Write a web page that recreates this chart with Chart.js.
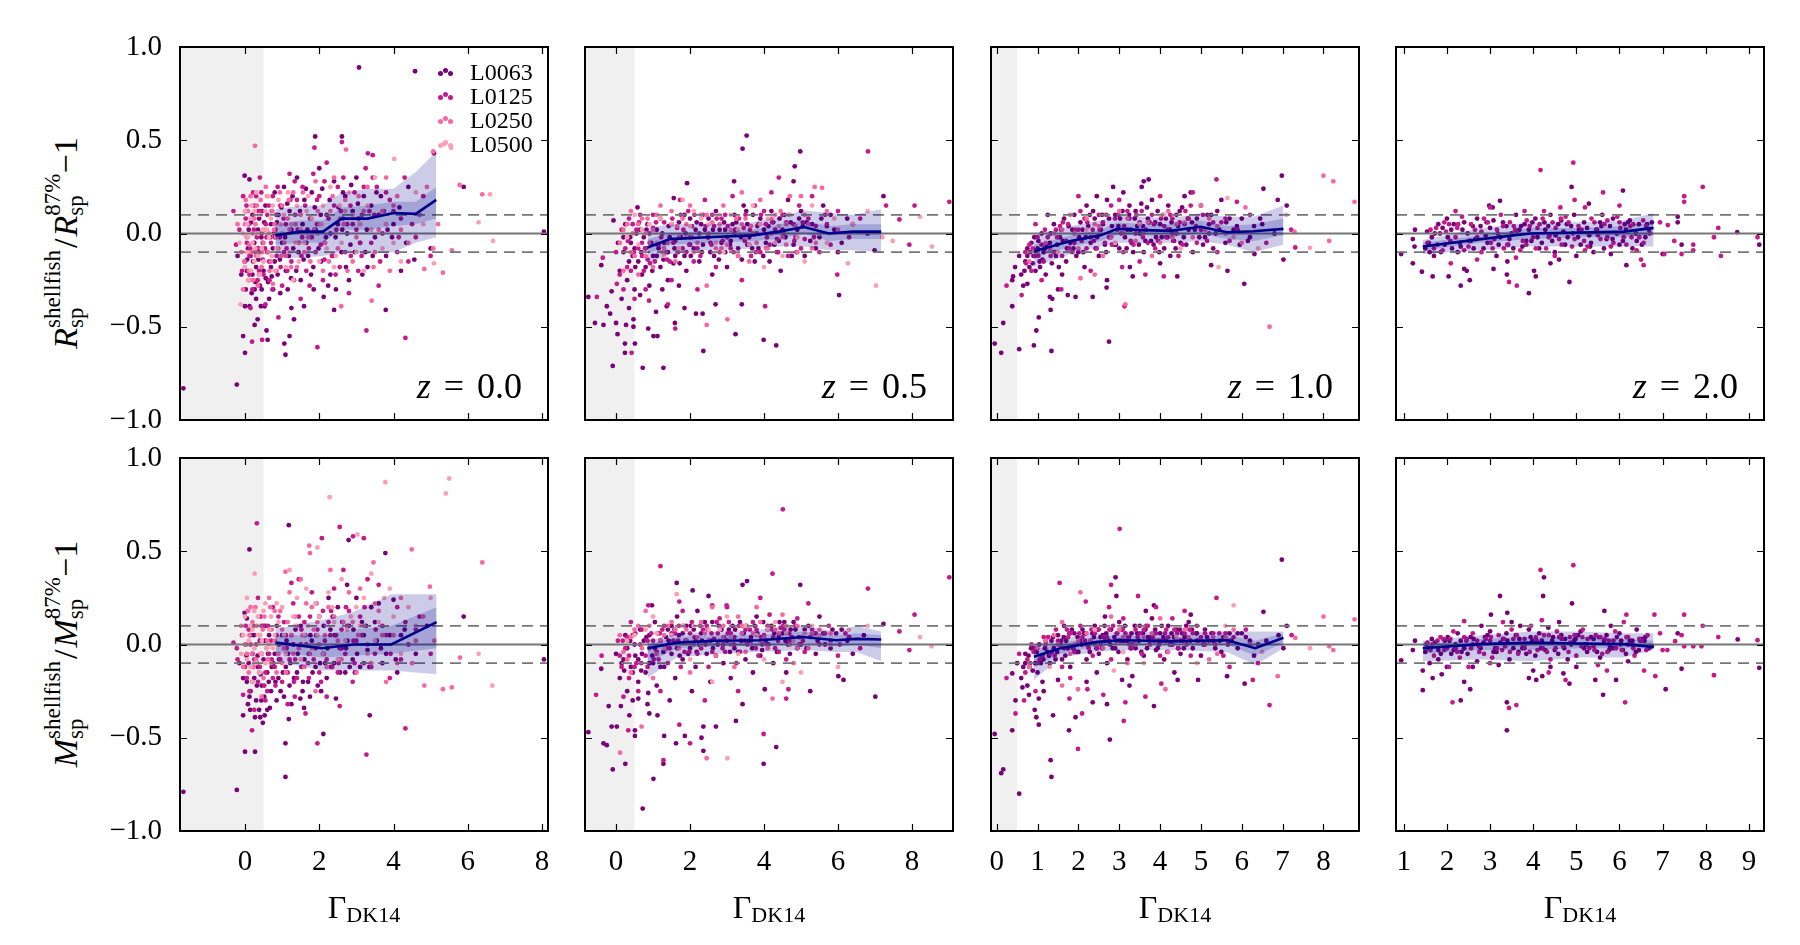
<!DOCTYPE html>
<html>
<head>
<meta charset="utf-8">
<title>Shellfish vs 87% splashback</title>
<script src="https://cdn.jsdelivr.net/npm/chart.js@4.4.1/dist/chart.umd.min.js"></script>
<style>
  body { margin: 0; background: #fff; }
  #fig { position: relative; width: 1800px; height: 945px; overflow: hidden; background: #fff;
         font-family: 'Liberation Serif', 'DejaVu Serif', serif; color: #000; }
  #fig canvas { position: absolute; }
  .txt { position: absolute; white-space: nowrap; line-height: 1; }
  .ylab { font-size: 34px; transform: translate(-50%, -50%) rotate(-90deg); }
  .st { display: inline-block; font-size: 23px; line-height: 23px; vertical-align: -6px; }
  .st span { display: block; }
  .zlab { font-size: 36px; word-spacing: 4px; }
  .xlab { font-size: 32px; transform: translateX(-50%); }
  .xlab span { font-size: 22px; position: relative; top: 4px; }
  .leg { font-size: 24px; }
  .dot { position: absolute; width: 5px; height: 5px; border-radius: 50%; }
</style>
</head>
<body>
<div id="fig"></div>
<script>
// ---- series / styling ----
const SERIES = ["L0063", "L0125", "L0250", "L0500"];
const COLORS = ["#7a0177", "#c51b8a", "#f768a1", "#fa9fb5"];
const REDSHIFTS = ["0.0", "0.5", "1.0", "2.0"];
const X_MIN = [-1.75, -0.84, -0.14, 0.82];
const X_MAX = [8.16, 9.11, 8.87, 9.35];
const X_TICKS = [[0, 2, 4, 6, 8], [0, 2, 4, 6, 8], [0, 1, 2, 3, 4, 5, 6, 7, 8], [1, 2, 3, 4, 5, 6, 7, 8, 9]];
const Y_TICKS = [-1, -0.5, 0, 0.5, 1];
const SHADE_MAX = 0.5;      // grey region: Gamma < 0.5
const REF_SOLID = 0;
const REF_DASHED = [0.1, -0.1];

// ---- R_sp, z = 0.0 (x, y pairs) ----
const rz00_L0063 = [3.07,0.89, 4.58,0.87, -1.66,-0.83, -0.22,-0.81, 8.05,0.01, -0.01,0.31, 0.12,0.29, 1.89,0.52, 2.61,0.52, 5.89,0.25,
  3.79,-0.41, 2.40,-0.41, 2.12,-0.34, 1.59,-0.39, 1.25,-0.40, 1.09,-0.65, 1.06,-0.59, 1.20,-0.55, 1.32,-0.46, 0.61,-0.57,
  0.58,-0.52, 0.26,-0.49, 0.34,-0.46, 0.00,-0.64, -0.05,-0.55, 0.12,-0.39, 0.00,-0.39, 0.72,-0.23, 0.53,-0.39, 0.43,-0.39,
  0.05,-0.20, 0.10,-0.25, 0.20,-0.22, 0.30,-0.18, 0.15,-0.12, 0.25,-0.05, 0.35,0.02, 0.40,-0.28, 0.45,-0.30, 0.50,-0.20,
  0.60,-0.10, 0.70,0.05, 0.80,-0.15, 0.90,0.10, 1.00,-0.05, 1.05,0.25, 1.10,-0.20, 1.20,0.12, 1.30,-0.08, 1.40,0.30,
  1.50,-0.25, 1.55,0.05, 1.60,0.18, 1.70,-0.12, 1.80,0.22, 1.85,-0.30, 1.90,0.02, 2.00,0.35, 2.05,-0.15, 2.20,0.10,
  2.30,-0.22, 2.40,0.28, 2.50,0.05, 2.60,-0.10, 2.70,0.20, 2.80,-0.25, 2.90,0.12, 3.00,0.30, 3.10,-0.05, 3.20,0.20,
  3.30,-0.18, 3.40,0.15, 3.60,0.10, 3.80,-0.12, 4.00,0.05, 4.20,-0.20, 4.40,0.25, 4.70,0.10, 5.00,-0.08, 0.20,0.10,
  0.55,0.15, 0.80,0.22, 1.15,-0.30, 0.30,-0.35, 0.40,-0.10, 0.10,0.02, 0.65,-0.35, 0.95,-0.32, 2.45,-0.30, 0.08,-0.08,
  0.22,-0.15, 0.48,-0.05, 0.75,-0.08, 1.25,0.02, 1.65,-0.05, 2.15,-0.05, 2.75,0.00, 3.50,-0.02, 0.38,0.08, 0.02,0.12,
  -0.20,-0.12, -0.10,-0.22, 0.02,-0.30, 0.18,-0.32, 0.28,-0.26, 0.36,-0.14, 0.44,-0.02, 0.52,0.06, 0.62,-0.26, 0.70,-0.18,
  0.78,0.00, 0.88,-0.22, 0.98,0.14, 1.08,-0.02, 1.18,-0.12, 1.28,0.20, 1.38,-0.20, 1.48,0.12, 1.58,-0.14, 1.68,0.02,
  1.78,-0.22, 1.88,0.14, 1.98,-0.08, 2.08,0.24, 2.18,-0.02, 2.28,0.18, 2.38,-0.12, 2.52,0.14, 2.62,0.02, 2.72,-0.18,
  2.86,0.26, 2.96,-0.10, 3.06,0.08, 3.16,-0.22, 3.28,0.02, 3.44,-0.12, 3.66,0.20, 3.96,-0.02, 4.16,0.14, 4.56,-0.14,
  0.06,-0.14, 0.16,0.06, 0.26,-0.30, 0.34,-0.08, 0.46,0.12, 0.56,-0.24, 0.68,-0.02, 0.76,-0.30, 0.86,0.06, 0.94,-0.14,
  1.14,0.16, 1.24,-0.24, 1.44,-0.10, 1.64,0.24, 1.84,-0.18, 2.04,0.10, 2.24,-0.28, 2.44,-0.02, 2.64,0.22, 2.84,-0.06,
  3.04,0.16, 3.24,-0.10, 3.54,0.22, 3.84,0.02, 4.34,-0.05];
const rz00_L0125 = [-0.31,0.12, 2.61,0.49, 1.87,0.46, 3.31,0.43, 3.44,0.42, 5.09,0.43, 4.32,-0.56, 3.27,-0.52, 1.95,-0.61, 0.46,-0.57,
  0.19,-0.58, -0.24,-0.06, 0.00,-0.15, 0.10,0.05, 0.20,-0.30, 0.30,0.20, 0.35,-0.08, 0.45,0.00, 0.50,-0.22, 0.60,0.10,
  0.70,-0.05, 0.75,0.20, 0.85,-0.12, 0.95,0.15, 1.00,-0.28, 1.10,0.05, 1.20,0.32, 1.25,-0.15, 1.35,0.10, 1.45,-0.05,
  1.55,0.25, 1.65,-0.20, 1.75,0.08, 1.90,-0.10, 2.00,0.20, 2.10,-0.25, 2.20,0.38, 2.30,0.00, 2.40,0.15, 2.55,-0.18,
  2.65,0.30, 2.75,0.05, 2.85,-0.12, 2.95,0.22, 3.05,-0.20, 3.15,0.10, 3.25,0.35, 3.40,-0.05, 3.55,0.25, 3.70,0.00,
  3.90,0.18, 4.10,-0.10, 4.30,0.30, 4.50,0.05, 4.80,0.20, 5.00,-0.12, 0.15,-0.40, 0.40,0.30, 0.55,-0.38, 0.90,-0.45,
  1.50,-0.35, 2.80,-0.32, 3.60,-0.28, 0.25,0.15, 0.05,-0.05, 0.65,-0.15, 0.12,-0.22, 0.28,-0.10, 0.42,0.12, 0.58,-0.02,
  0.82,0.02, 1.05,-0.10, 1.40,0.18, 1.80,-0.02, 2.25,0.08, 2.50,0.25, 3.00,0.02, 3.35,0.12, 4.00,0.12, 4.60,-0.02,
  -0.05,0.20, 0.38,-0.20,
  -0.15,0.02, -0.08,-0.20, 0.04,0.15, 0.14,-0.08, 0.22,0.22, 0.32,-0.02, 0.36,0.12, 0.48,-0.14, 0.56,0.05, 0.66,-0.25,
  0.72,0.12, 0.80,-0.02, 0.88,0.25, 0.96,-0.18, 1.04,0.08, 1.12,-0.08, 1.22,0.18, 1.32,-0.25, 1.42,0.02, 1.52,-0.12,
  1.62,0.15, 1.72,-0.08, 1.84,0.32, 1.94,0.05, 2.04,-0.06, 2.14,0.28, 2.34,-0.12, 2.46,0.02, 2.58,0.12, 2.70,-0.10,
  2.90,0.05, 3.10,-0.05, 3.20,0.25, 3.48,0.10, 3.64,-0.15, 3.80,0.22, 4.20,0.08, 4.40,-0.15,
  0.02,0.08, 0.12,-0.12, 0.24,0.02, 0.34,-0.25, 0.44,0.22, 0.54,-0.08, 0.64,0.15, 0.74,-0.30, 0.84,0.10, 0.94,-0.02,
  1.14,-0.20, 1.34,0.28, 1.54,-0.02, 1.74,-0.28, 1.94,0.18, 2.14,-0.14, 2.44,-0.22, 2.64,0.08, 2.84,0.15, 3.14,-0.12,
  3.44,0.30, 3.74,0.12, 4.14,-0.02];
const rz00_L0250 = [0.27,0.47, 2.72,0.45, 5.07,0.44, 5.78,0.26, 6.39,0.21, 5.33,-0.21, 5.57,-0.09, 5.07,-0.08, 4.83,-0.19, 3.41,-0.36,
  2.59,-0.39, 0.75,-0.27, -0.10,-0.10, 0.00,0.05, 0.10,-0.20, 0.20,0.00, 0.30,-0.12, 0.40,0.10, 0.50,-0.05, 0.60,0.20,
  0.70,-0.15, 0.80,0.05, 0.90,-0.08, 1.00,0.15, 1.10,-0.12, 1.20,0.02, 1.30,0.22, 1.40,-0.18, 1.50,0.10, 1.70,-0.02,
  1.90,0.28, 2.10,-0.20, 2.30,0.12, 2.50,-0.08, 2.70,0.18, 2.90,-0.15, 3.10,0.05, 3.30,0.25, 3.50,-0.10, 3.70,0.12,
  3.90,-0.20, 4.10,0.20, 4.40,-0.05, 4.70,0.10, 0.15,0.20, 0.35,-0.28, -0.05,-0.30, 0.05,-0.02, 0.25,0.08, 0.45,-0.18,
  0.65,0.00, 0.85,-0.20, 1.15,0.08, 1.60,-0.10, 2.00,0.05, 2.40,0.30, 3.00,-0.02, 3.80,0.30, 4.20,0.02, 4.90,0.25, 5.20,0.05,
  -0.20,0.05, -0.02,-0.15, 0.08,0.12, 0.18,-0.10, 0.28,0.05, 0.38,-0.22, 0.42,0.18, 0.52,0.02, 0.62,-0.10, 0.74,0.12,
  0.84,-0.02, 0.94,0.22, 1.06,-0.05, 1.24,-0.18, 1.36,0.05, 1.56,0.22, 1.76,-0.15, 1.96,0.12, 2.16,-0.05, 2.36,0.20,
  2.56,0.08, 2.76,-0.20, 3.20,0.12, 3.60,0.02, 4.00,0.15,
  0.02,0.18, 0.12,-0.06, 0.22,-0.25, 0.32,0.15, 0.46,-0.10, 0.56,0.25, 0.66,-0.20, 0.78,0.02, 0.98,-0.12, 1.18,0.18,
  1.46,-0.05, 1.86,0.02, 2.26,-0.15, 2.66,0.05, 3.06,0.20, 3.46,-0.18];
const rz00_L0500 = [4.02,0.40, 5.36,0.48, 5.55,0.46, 6.60,0.21, 6.29,0.06, 6.68,-0.04, 5.09,-0.16, -0.12,-0.38, -0.05,0.00, 0.05,-0.10,
  0.15,0.08, 0.25,-0.15, 0.35,0.00, 0.45,-0.08, 0.55,0.12, 0.65,-0.02, 0.80,-0.20, 1.00,0.00, 1.20,-0.10, 1.40,0.15,
  1.60,-0.05, 1.80,0.08, 2.00,-0.15, 2.30,0.25, 2.60,-0.05, 2.90,0.10, 3.20,-0.20, 3.50,0.30, 3.80,0.05, 4.20,-0.15,
  4.60,0.22, 0.10,-0.25, 0.30,0.22, 0.20,-0.05, 0.40,-0.22, 0.70,0.08, 0.90,0.18, 1.10,-0.18, 1.50,0.02, 2.10,0.15,
  2.45,-0.12, 2.80,0.22, 3.40,0.02, 4.00,-0.05, 4.80,0.05, 1.30,-0.25, 0.00,-0.18,
  -0.15,-0.05, 0.00,0.12, 0.08,-0.02, 0.18,0.15, 0.28,-0.08, 0.38,0.10, 0.50,-0.15, 0.60,0.02, 0.75,0.15, 0.85,-0.08,
  1.05,0.10, 1.25,0.05, 1.45,-0.15, 1.70,0.20, 1.95,0.00, 2.20,-0.08, 2.55,0.15, 3.00,-0.10, 3.30,0.15, 3.70,-0.08,
  0.06,0.05, 0.16,-0.20, 0.26,0.12, 0.36,-0.12, 0.48,0.02, 0.62,0.20, 0.72,-0.12, 0.96,0.05, 1.16,0.22, 1.36,-0.05,
  1.66,0.12, 2.06,0.05, 2.40,-0.18, 2.70,0.12, 3.10,0.05];
const rz00_bins = [0.82, 1.5, 2.1, 2.6, 3.3, 4.0, 4.6, 5.15];
const rz00_med  = [-0.01, 0.01, 0.01, 0.08, 0.08, 0.11, 0.105, 0.18];
const rz00_lo   = [-0.13, -0.13, -0.12, -0.10, -0.11, -0.10, -0.05, -0.02];
const rz00_hi   = [0.13, 0.15, 0.15, 0.22, 0.24, 0.24, 0.33, 0.44];
const rz00_lo2  = [-0.06, -0.05, -0.05, 0.02, 0.02, 0.04, 0.05, 0.08];
const rz00_hi2  = [0.05, 0.07, 0.07, 0.14, 0.15, 0.17, 0.17, 0.25];

// ---- R_sp, z = 0.5 ----
const rz05_L0063 = [3.53,0.525, 3.42,0.455, 4.98,0.44, 4.83,0.36, 1.92,0.27, 3.19,0.28, 4.80,0.28, 1.56,0.19, 7.23,0.20, 6.03,-0.33,
  6.99,-0.09, -0.75,-0.34, -0.57,-0.48, -0.34,-0.49, -0.09,-0.71, 0.72,-0.72, 1.28,-0.72, 0.24,-0.64, 0.24,-0.59, 0.51,-0.59,
  0.04,-0.54, 0.87,-0.51, 1.01,-0.55, 1.12,-0.55, 1.08,-0.42, 1.37,-0.39, 1.59,-0.48, 1.85,-0.40, 2.16,-0.43, 2.34,-0.43,
  2.36,-0.63, 2.69,-0.38, 3.23,-0.54, 3.40,-0.38, 3.99,-0.57, 4.33,-0.60, -0.16,-0.43, 0.00,-0.48, 0.27,-0.49, 0.47,-0.50,
  0.47,-0.46, -0.25,-0.39, -0.12,-0.31, -0.40,-0.17, -0.07,0.07, 0.58,0.14,
  0.10,-0.20, 0.20,-0.10, 0.30,-0.25, 0.40,-0.05, 0.50,-0.30, 0.60,-0.15, 0.70,-0.22, 0.80,-0.08, 0.90,-0.28, 1.00,-0.12,
  1.10,0.02, 1.20,-0.18, 1.30,-0.05, 1.40,-0.25, 1.50,0.05, 1.60,-0.12, 1.75,-0.02, 1.90,-0.20, 2.00,0.08, 2.10,-0.08,
  2.25,-0.15, 2.40,0.02, 2.55,-0.10, 2.70,0.12, 2.85,-0.05, 3.00,-0.18, 3.15,0.05, 3.30,-0.08, 3.45,0.15, 3.60,-0.02,
  3.75,-0.15, 3.90,0.08, 4.05,-0.05, 4.20,0.12, 4.35,-0.10, 4.50,0.02, 4.65,0.18, 4.80,-0.06, 4.95,0.08, 5.10,-0.12,
  5.30,0.05, 5.50,-0.02, 5.80,0.10, 6.10,-0.05, 6.40,0.05, 6.80,0.00, 0.15,-0.35, 0.35,-0.40, 0.65,-0.33, 1.25,-0.30,
  0.05,-0.05, 0.25,0.05, 0.55,0.00, 0.85,0.05, 1.45,-0.02, 2.30,0.05, 2.95,0.02, 3.55,0.05, 4.15,-0.15, 5.00,0.12,
  1.70,-0.28, 2.60,-0.22, 0.45,-0.12, 0.75,-0.02, 1.15,-0.08, 1.85,0.10, 3.20,0.10, 4.45,-0.20, 5.60,0.15,
  0.20,-0.02, 0.35,-0.15, 0.50,-0.08, 0.65,0.02, 0.80,-0.18, 0.95,-0.05, 1.10,-0.12, 1.25,0.00, 1.40,-0.10, 1.55,-0.16,
  1.70,0.06, 1.85,-0.12, 2.00,-0.06, 2.15,0.02, 2.35,-0.06, 2.50,0.08, 2.65,-0.12, 2.80,0.02, 2.95,-0.10, 3.10,-0.04,
  3.25,0.06, 3.40,-0.14, 3.55,-0.06, 3.70,0.10, 3.85,-0.08, 4.00,0.02, 4.25,0.06, 4.40,-0.04, 4.55,0.10, 4.75,-0.12,
  4.90,0.02, 5.15,0.06, 5.40,-0.08, 5.70,0.04, 6.00,-0.10, 6.25,0.08,
  0.38,-0.02, 0.52,-0.18, 0.68,-0.10, 0.82,0.02, 0.98,-0.20, 1.12,-0.06, 1.28,-0.14, 1.42,0.04, 1.58,-0.08, 1.72,-0.16,
  1.88,0.00, 2.02,-0.12, 2.18,0.06, 2.32,-0.10, 2.48,-0.02, 2.62,0.02, 2.78,-0.14, 2.92,0.06, 3.08,-0.06, 3.22,0.02,
  3.38,-0.02, 3.52,0.12, 3.68,-0.08, 3.82,0.04, 3.98,-0.12, 4.12,0.04, 4.28,-0.06, 4.42,0.08, 4.58,-0.02, 4.72,0.06,
  4.88,-0.10, 5.05,0.04, 5.25,-0.04, 5.55,0.08, 5.90,0.02];
const rz05_L0125 = [1.73,0.18, 7.30,0.15, 8.07,0.15, 9.01,0.17, 6.81,0.44, 7.66,0.075, 7.93,-0.06, 5.98,-0.22, -0.52,-0.34, 0.42,-0.64,
  1.60,-0.51, 0.89,-0.36, 0.02,-0.27, -0.36,-0.13, 4.03,-0.39,
  0.00,-0.10, 0.15,0.02, 0.30,-0.18, 0.45,0.05, 0.60,-0.08, 0.75,-0.20, 0.90,0.00, 1.05,-0.15, 1.20,0.08, 1.35,-0.10,
  1.50,-0.25, 1.65,0.03, 1.80,-0.08, 1.95,0.12, 2.10,-0.15, 2.25,0.00, 2.40,0.18, 2.55,-0.05, 2.70,-0.18, 2.85,0.08,
  3.00,-0.02, 3.15,0.20, 3.30,-0.12, 3.45,0.03, 3.60,-0.06, 3.75,0.15, 3.90,-0.10, 4.05,0.05, 4.20,0.22, 4.35,-0.03,
  4.50,0.10, 4.65,-0.12, 4.80,0.05, 4.95,0.15, 5.10,-0.03, 5.30,0.20, 5.50,-0.10, 5.70,0.05, 6.00,0.12, 6.30,-0.02,
  6.60,0.08, 0.20,-0.30, 0.50,-0.35, 0.80,-0.30, 1.40,-0.38, 2.20,-0.30, 3.40,-0.25, 0.35,0.08, 0.65,0.10, 1.00,0.10,
  1.55,-0.05, 2.00,-0.02, 2.60,0.10, 3.20,0.00, 3.85,0.05, 4.40,0.30, 5.20,0.08, 0.10,-0.22, 0.70,-0.12,
  0.25,-0.08, 0.40,-0.20, 0.55,0.02, 0.70,-0.05, 0.85,-0.14, 1.00,0.03, 1.15,-0.06, 1.30,0.06, 1.45,-0.15, 1.60,-0.04,
  1.75,0.10, 1.90,-0.10, 2.05,0.04, 2.20,-0.08, 2.35,0.10, 2.50,-0.02, 2.65,0.04, 2.80,-0.10, 2.95,0.10, 3.10,-0.08,
  3.25,0.02, 3.50,0.10, 3.65,-0.12, 3.80,0.00, 4.00,0.12, 4.15,-0.06, 4.30,0.02, 4.60,0.06, 4.85,-0.02, 5.00,-0.08,
  5.40,0.04, 5.80,-0.06,
  0.32,-0.04, 0.48,-0.10, 0.62,0.06, 0.78,-0.08, 0.92,-0.16, 1.08,0.06, 1.22,-0.02, 1.38,-0.14, 1.52,0.08, 1.68,-0.10,
  1.82,0.02, 1.98,-0.06, 2.12,0.10, 2.28,-0.12, 2.42,0.04, 2.58,-0.06, 2.72,0.08, 2.88,-0.04, 3.02,0.04, 3.18,-0.10,
  3.32,0.08, 3.48,-0.04, 3.62,0.02, 3.78,-0.10, 3.92,0.10, 4.08,-0.02, 4.22,0.06, 4.38,-0.10, 4.52,0.00, 4.68,0.10,
  4.82,-0.04, 5.05,0.06, 5.35,-0.02, 5.65,0.10];
const rz05_L0250 = [5.37,0.25, 5.57,0.245, 2.45,-0.49, 3.01,-0.46, 2.45,-0.28,
  0.10,-0.05, 0.30,0.05, 0.50,-0.12, 0.70,0.08, 0.90,-0.05, 1.10,0.10, 1.30,-0.08, 1.50,0.12, 1.70,-0.02, 1.90,0.05,
  2.10,-0.10, 2.30,0.10, 2.50,0.00, 2.70,-0.08, 2.90,0.15, 3.10,0.02, 3.30,-0.12, 3.50,0.08, 3.70,0.00, 3.90,0.18,
  4.10,-0.08, 4.30,0.10, 4.50,-0.02, 4.70,0.20, 4.90,-0.10, 5.10,0.10, 5.40,-0.05, 5.70,0.12, 6.00,0.02, 0.20,-0.20,
  0.60,-0.22, 1.00,-0.18, 0.40,0.12, 1.20,0.15, 2.00,0.15, 3.40,0.22, 4.60,0.05, 5.00,0.20, 0.80,0.00, 1.60,-0.15,
  2.80,0.05, 3.60,-0.15, 4.20,0.00,
  0.20,0.02, 0.40,-0.10, 0.60,0.05, 0.80,-0.12, 1.00,0.02, 1.40,-0.05, 1.80,0.08, 2.20,-0.05, 2.60,0.06, 3.00,-0.06,
  3.40,0.05, 3.80,-0.05, 4.20,0.08, 4.60,-0.06, 5.20,0.05,
  0.45,0.00, 0.85,0.08, 1.25,-0.10, 1.65,0.04, 2.05,-0.02, 2.45,0.10, 2.85,-0.08, 3.25,0.08, 3.65,0.04, 4.05,-0.08,
  4.45,0.12, 4.85,0.04, 5.30,-0.08];
const rz05_L0500 = [8.22,0.09, 7.48,-0.04, 8.54,-0.07, 7.03,-0.28, 6.27,-0.16,
  0.30,-0.02, 0.70,0.02, 1.10,-0.05, 1.50,0.05, 1.90,-0.02, 2.30,0.08, 2.70,-0.05, 3.10,0.10, 3.50,-0.02, 3.90,0.05,
  4.30,-0.05, 4.70,0.10, 5.10,-0.15, 5.50,0.00, 5.90,0.08, 6.40,0.05, 0.50,0.10, 1.30,-0.12, 2.10,0.12, 2.90,-0.10,
  3.70,0.15, 4.50,-0.12, 5.30,0.15, 6.80,0.12, 7.20,-0.02, 1.80,0.18, 4.00,-0.18,
  0.90,0.05, 1.70,-0.08, 2.50,0.05, 3.30,0.02, 4.10,0.08, 4.90,-0.02, 5.70,-0.05,
  0.60,-0.06, 1.20,0.08, 2.00,0.04, 2.80,0.10, 3.60,-0.06, 4.40,0.04];
const rz05_bins = [0.85, 1.46, 2.45, 3.7, 4.4, 5.08, 5.75, 6.4, 7.17];
const rz05_med  = [-0.075, -0.03, -0.02, -0.01, 0.01, 0.035, 0.0, 0.01, 0.01];
const rz05_lo   = [-0.16, -0.11, -0.09, -0.08, -0.07, -0.07, -0.09, -0.09, -0.10];
const rz05_hi   = [0.03, 0.05, 0.05, 0.06, 0.09, 0.125, 0.11, 0.10, 0.13];
const rz05_lo2  = [-0.11, -0.06, -0.05, -0.04, -0.03, 0.0, -0.04, -0.03, -0.03];
const rz05_hi2  = [-0.03, 0.0, 0.01, 0.02, 0.05, 0.07, 0.04, 0.05, 0.05];

// ---- R_sp, z = 1.0 ----
const rz10_L0063 = [3.72,0.29, 3.60,0.28, 6.98,0.31, 6.53,0.24, 6.88,0.18, 7.10,0.15, 7.02,-0.14, 6.31,-0.11, 6.06,-0.27, 5.65,-0.20,
  5.25,-0.17, 4.42,-0.23, 4.00,-0.16, 3.33,-0.23, 3.26,-0.18, 2.75,-0.58, 2.69,-0.29, 2.70,-0.25, 2.35,-0.34, 1.93,-0.34,
  1.74,-0.33, 1.50,-0.30, 1.36,-0.35, 1.30,-0.34, 1.32,-0.41, 1.03,-0.45, 0.97,-0.52, 0.91,-0.60, 1.34,-0.63, 0.55,-0.62,
  0.11,-0.64, -0.05,-0.59, 0.16,-0.48, 0.38,-0.39, 0.38,-0.25, 0.40,-0.23, 0.75,-0.27,
  0.45,-0.18, 0.55,-0.12, 0.60,-0.22, 0.70,-0.15, 0.75,-0.08, 0.80,-0.18, 0.85,-0.05, 0.90,-0.12, 0.95,-0.20, 1.00,-0.08,
  1.05,-0.15, 1.10,0.00, 1.15,-0.10, 1.20,-0.22, 1.30,-0.05, 1.40,0.05, 1.45,-0.12, 1.55,-0.02, 1.65,0.08, 1.70,-0.15,
  1.80,-0.05, 1.90,0.10, 2.00,-0.10, 2.10,0.02, 2.20,0.15, 2.30,-0.05, 2.40,0.08, 2.50,-0.12, 2.60,0.05, 2.70,0.18,
  2.80,-0.02, 2.90,0.10, 3.00,-0.08, 3.10,0.22, 3.20,0.02, 3.30,-0.05, 3.40,0.12, 3.50,0.00, 3.60,-0.10, 3.70,0.08,
  3.80,0.18, 3.90,-0.02, 4.00,0.05, 4.10,-0.08, 4.20,0.15, 4.30,0.00, 4.40,0.10, 4.50,-0.05, 4.60,0.20, 4.70,0.02,
  4.80,-0.10, 4.90,0.08, 5.00,0.15, 5.10,-0.02, 5.20,0.05, 5.40,0.12, 5.60,-0.05, 5.80,0.02, 6.00,0.08, 6.20,-0.02,
  6.50,0.05, 6.80,0.00, 1.25,0.10, 2.15,-0.18, 3.25,0.15, 4.25,-0.12, 5.30,-0.08, 0.65,-0.28, 1.60,-0.22, 2.45,0.20,
  3.55,0.25, 4.75,0.22, 5.50,0.18, 2.85,0.25,
  0.75,-0.12, 0.88,-0.16, 1.02,-0.04, 1.12,-0.14, 1.22,-0.06, 1.35,-0.16, 1.48,-0.06, 1.58,0.02, 1.72,-0.08, 1.85,0.02,
  1.95,-0.12, 2.05,0.06, 2.18,-0.02, 2.28,0.10, 2.42,-0.08, 2.55,0.02, 2.65,-0.06, 2.75,0.08, 2.88,-0.06, 2.98,0.04,
  3.08,0.12, 3.18,-0.08, 3.28,0.02, 3.38,0.08, 3.48,-0.06, 3.58,0.04, 3.68,0.14, 3.78,-0.04, 3.88,0.06, 3.98,-0.10,
  4.08,0.10, 4.18,-0.02, 4.28,0.06, 4.38,-0.08, 4.48,0.12, 4.58,-0.02, 4.68,0.08, 4.85,0.02, 5.05,-0.06, 5.25,0.10,
  5.45,0.02, 5.70,0.08, 5.95,-0.06, 6.30,0.04,
  0.68,-0.20, 0.82,-0.10, 0.92,-0.02, 1.06,-0.18, 1.18,-0.08, 1.32,0.00, 1.42,-0.10, 1.52,-0.18, 1.62,-0.04, 1.76,0.04,
  1.88,-0.08, 2.02,-0.02, 2.12,-0.10, 2.24,0.04, 2.36,0.12, 2.46,-0.02, 2.58,0.10, 2.68,-0.10, 2.82,0.04, 2.92,-0.06,
  3.02,0.08, 3.14,-0.02, 3.24,0.10, 3.34,-0.10, 3.44,0.04, 3.54,0.16, 3.64,-0.04, 3.74,0.06, 3.84,-0.06, 3.94,0.12,
  4.04,-0.02, 4.14,0.08, 4.24,0.02, 4.34,-0.04, 4.44,0.04, 4.54,0.14, 4.64,-0.06, 4.78,0.06, 4.96,-0.02, 5.16,0.10,
  5.36,0.00, 5.62,0.06, 5.88,0.04, 6.15,-0.04, 6.45,0.08];
const rz10_L0125 = [5.38,0.29, 5.88,0.17, 7.21,0.02, 7.31,-0.075, 4.09,-0.23, 3.64,-0.22, 3.13,-0.39, 1.58,-0.30, 0.61,-0.33, 0.24,-0.28, 3.07,-0.18,
  0.70,-0.10, 0.85,-0.20, 1.00,-0.02, 1.15,-0.15, 1.30,-0.08, 1.45,0.02, 1.60,-0.12, 1.75,0.05, 1.90,-0.05, 2.05,0.12,
  2.20,-0.08, 2.35,0.02, 2.50,0.10, 2.65,-0.05, 2.80,0.15, 2.95,0.02, 3.10,-0.10, 3.25,0.08, 3.40,0.00, 3.55,0.12,
  3.70,-0.05, 3.85,0.05, 4.00,0.20, 4.15,-0.02, 4.30,0.08, 4.45,-0.12, 4.60,0.05, 4.75,0.15, 4.90,-0.05, 5.05,0.10,
  5.20,0.00, 5.40,-0.10, 5.60,0.08, 5.90,0.02, 6.20,0.10, 6.60,-0.05, 1.10,-0.25, 2.30,-0.20, 3.50,-0.15, 4.80,0.22,
  0.95,0.05, 2.00,0.20, 3.00,0.18,
  0.80,-0.06, 0.95,-0.12, 1.10,-0.06, 1.25,-0.02, 1.40,-0.10, 1.55,0.04, 1.70,-0.04, 1.85,-0.10, 2.00,0.02, 2.15,0.08,
  2.30,-0.02, 2.45,-0.08, 2.60,0.06, 2.75,-0.02, 2.90,0.08, 3.05,0.00, 3.20,0.12, 3.35,-0.06, 3.50,0.06, 3.65,0.02,
  3.80,0.10, 3.95,-0.04, 4.10,0.04, 4.25,0.10, 4.40,0.00, 4.55,-0.06, 4.70,0.08, 5.00,0.02, 5.30,0.06, 5.70,-0.04,
  0.72,-0.16, 0.88,-0.08, 1.02,-0.12, 1.18,0.02, 1.32,-0.12, 1.48,-0.02, 1.62,0.06, 1.78,-0.08, 1.92,0.02, 2.08,-0.04,
  2.22,0.06, 2.38,-0.04, 2.52,0.02, 2.68,0.10, 2.82,-0.06, 2.98,0.10, 3.12,0.04, 3.28,-0.04, 3.42,0.10, 3.58,-0.02,
  3.72,0.06, 3.88,-0.08, 4.02,0.08, 4.18,0.02, 4.32,-0.04, 4.48,0.06, 4.62,0.12, 4.88,0.04, 5.15,-0.04, 5.50,0.06];
const rz10_L0250 = [8.00,0.31, 8.24,0.28, 8.76,0.17, 6.09,0.14, 7.29,0.01, 8.14,-0.04, 6.68,-0.50, 3.15,-0.38, 2.05,-0.24, 2.40,-0.22,
  1.20,-0.05, 1.60,0.02, 2.00,-0.08, 2.40,0.05, 2.80,-0.02, 3.20,0.08, 3.60,0.00, 4.00,-0.05, 4.40,0.05, 4.80,-0.02,
  5.20,0.08, 5.60,0.00, 6.00,-0.05, 1.80,0.10, 3.00,0.12, 4.20,0.12, 0.80,-0.15, 2.60,-0.12, 3.80,-0.12, 5.00,0.15,
  1.00,-0.10, 1.40,0.00, 2.20,0.08, 3.40,-0.04, 4.60,0.06, 5.40,0.04,
  1.30,-0.08, 1.90,0.00, 2.50,0.04, 3.10,0.00, 3.70,0.06, 4.30,-0.02, 5.10,0.02];
const rz10_L0500 = [5.65,0.19, 7.09,0.10, 7.67,-0.077, 5.43,-0.18, 2.90,-0.05, 3.50,0.05, 4.50,-0.08, 2.20,0.02, 1.50,-0.10, 5.80,-0.02,
  4.10,0.10, 6.40,-0.08];
const rz10_bins = [0.91, 1.81, 2.54, 2.95, 3.6, 4.25, 4.99, 5.64, 6.29, 7.02];
const rz10_med  = [-0.095, -0.04, -0.01, 0.025, 0.018, 0.014, 0.036, 0.007, 0.012, 0.025];
const rz10_lo   = [-0.18, -0.11, -0.07, -0.05, -0.05, -0.05, -0.04, -0.06, -0.10, -0.06];
const rz10_hi   = [-0.01, 0.04, 0.07, 0.10, 0.09, 0.08, 0.11, 0.09, 0.09, 0.15];
const rz10_lo2  = [-0.13, -0.07, -0.04, -0.01, -0.01, -0.02, 0.0, -0.03, -0.04, -0.01];
const rz10_hi2  = [-0.06, -0.01, 0.02, 0.06, 0.05, 0.05, 0.07, 0.04, 0.05, 0.08];

// ---- R_sp, z = 2.0 (only two boxes reach this redshift) ----
const rz20_L0063 = [4.89,0.25, 6.08,0.23, 5.29,0.16, 3.23,0.175, 2.98,0.15, 3.06,0.14, 7.35,0.09, 7.35,0.06, 8.73,0.007, 9.24,-0.06,
  7.44,-0.06, 7.00,-0.11, 6.16,-0.17, 4.84,-0.26, 3.90,-0.32, 3.39,-0.22, 4.06,-0.23, 4.02,-0.20, 3.08,-0.19, 2.53,-0.25,
  2.32,-0.28, 2.40,-0.19, 2.46,-0.20, 2.04,-0.23, 1.67,-0.23, 1.42,-0.205, 1.21,-0.16, 0.94,-0.11, 1.25,-0.07, 1.21,-0.03,
  1.26,0.02, 1.54,0.01, 4.40,-0.16,
  1.50,-0.08, 1.65,-0.02, 1.80,0.05, 1.95,-0.06, 2.10,0.02, 2.25,-0.10, 2.40,0.06, 2.55,-0.04, 2.70,0.08, 2.85,-0.08,
  3.00,0.03, 3.15,-0.12, 3.30,0.06, 3.45,-0.03, 3.60,0.10, 3.75,-0.07, 3.90,0.02, 4.05,0.08, 4.20,-0.05, 4.35,0.04,
  4.50,-0.10, 4.65,0.07, 4.80,-0.02, 4.95,0.10, 5.10,-0.06, 5.25,0.03, 5.40,-0.10, 5.55,0.06, 5.70,-0.03, 5.85,0.08,
  6.00,-0.06, 6.15,0.02, 6.30,-0.08, 6.45,0.05, 6.60,-0.02, 6.75,0.06, 1.70,-0.12, 2.00,0.08, 2.60,0.04, 3.20,-0.06,
  3.80,0.05, 4.40,0.10, 5.00,-0.12, 5.60,0.10, 6.20,0.06, 2.30,-0.05, 2.90,-0.01, 3.50,0.00, 4.10,-0.02, 4.70,0.01,
  5.30,-0.01, 1.90,0.03, 3.40,-0.15, 4.60,-0.14, 5.80,-0.11,
  1.58,-0.05, 1.72,0.00, 1.86,-0.10, 2.02,-0.02, 2.16,0.05, 2.32,-0.07, 2.48,0.00, 2.62,-0.08, 2.78,0.04, 2.94,-0.05,
  3.08,0.07, 3.24,-0.02, 3.38,0.04, 3.54,-0.08, 3.68,0.02, 3.84,-0.04, 3.98,0.06, 4.14,-0.08, 4.28,0.02, 4.44,-0.04,
  4.58,0.05, 4.74,-0.06, 4.88,0.04, 5.04,-0.02, 5.18,0.06, 5.34,-0.05, 5.48,0.02, 5.64,-0.08, 5.78,0.04, 5.94,0.00,
  6.08,-0.04, 6.24,0.07, 6.38,0.00, 6.52,-0.06, 6.68,0.02,
  1.60,-0.10, 1.84,0.00, 2.12,-0.08, 2.36,0.02, 2.66,-0.03, 2.92,0.06, 3.18,0.00, 3.42,-0.06, 3.72,0.04, 3.96,-0.04,
  4.26,0.06, 4.52,-0.01, 4.78,0.05, 5.06,0.02, 5.32,-0.07, 5.58,0.04, 5.84,-0.03, 6.12,0.05, 6.40,-0.04, 6.64,0.05];
const rz20_L0125 = [4.93,0.38, 4.17,0.34, 7.93,0.25, 5.62,0.22, 7.50,0.20, 7.50,0.17, 4.96,0.18, 7.12,0.045, 6.94,0.06, 8.29,0.03,
  8.19,-0.02, 9.20,-0.02, 7.71,-0.06, 7.71,-0.09, 7.27,-0.04, 7.44,-0.11, 7.04,-0.11, 8.35,-0.12, 6.56,-0.17, 3.62,-0.28,
  3.44,-0.26, 2.09,-0.16, 4.63,0.14, 4.25,0.12,
  1.55,-0.05, 1.75,0.03, 1.90,-0.09, 2.05,0.05, 2.20,-0.02, 2.35,0.09, 2.50,-0.07, 2.65,0.02, 2.80,-0.10, 2.95,0.06,
  3.10,-0.03, 3.25,0.10, 3.40,-0.06, 3.55,0.04, 3.70,-0.09, 3.85,0.07, 4.00,-0.02, 4.15,0.05, 4.30,-0.08, 4.45,0.06,
  4.60,-0.03, 4.75,0.09, 4.90,-0.07, 5.05,0.04, 5.20,-0.09, 5.35,0.08, 5.50,-0.01, 5.65,0.05, 5.80,-0.07, 5.95,0.09,
  6.10,-0.02, 6.25,0.04, 6.40,-0.09, 6.55,0.07, 6.70,0.00, 2.20,0.12, 3.00,0.14, 3.80,0.12, 4.50,-0.12, 5.20,0.14,
  6.00,0.15, 2.70,-0.14, 3.60,-0.13, 6.50,-0.14,
  1.62,0.02, 1.78,-0.06, 1.94,0.06, 2.08,-0.04, 2.24,0.03, 2.40,-0.09, 2.56,0.05, 2.70,-0.02, 2.86,0.08, 3.02,-0.05,
  3.16,0.02, 3.32,-0.08, 3.46,0.06, 3.62,0.00, 3.76,-0.04, 3.92,0.04, 4.06,-0.08, 4.22,0.08, 4.36,-0.02, 4.52,0.03,
  4.66,-0.06, 4.82,0.06, 4.96,-0.03, 5.12,0.02, 5.26,-0.07, 5.42,0.06, 5.56,-0.03, 5.72,0.07, 5.86,-0.05, 6.02,0.03,
  6.16,-0.06, 6.32,0.05, 6.46,-0.02, 6.62,0.04,
  1.70,-0.08, 1.98,0.01, 2.26,0.05, 2.52,-0.04, 2.80,0.01, 3.06,-0.08, 3.30,0.04, 3.58,0.02, 3.84,-0.06, 4.10,0.03,
  4.38,-0.01, 4.64,0.08, 4.92,0.00, 5.18,-0.04, 5.46,0.02, 5.72,-0.02, 6.00,0.06, 6.28,-0.02, 6.56,-0.05];
const rz20_L0250 = [];
const rz20_L0500 = [];
const rz20_bins = [1.44, 2.79, 3.94, 5.1, 6.1, 6.79];
const rz20_med  = [-0.07, -0.03, 0.0, 0.005, 0.01, 0.03];
const rz20_lo   = [-0.11, -0.09, -0.07, -0.07, -0.07, -0.07];
const rz20_hi   = [-0.035, 0.03, 0.06, 0.06, 0.07, 0.11];
const rz20_lo2  = [-0.09, -0.05, -0.03, -0.02, -0.02, -0.01];
const rz20_hi2  = [-0.05, -0.01, 0.03, 0.03, 0.04, 0.06];

// ---- M_sp, z = 0.0 ----
const mz00_L0063 = [1.18,0.64, 0.12,0.51, 2.79,0.56, 3.78,0.49, 5.89,0.15, 8.05,-0.08, 3.36,-0.38, 2.11,-0.48, 1.09,-0.71, 1.09,-0.53,
  1.18,-0.40, 0.00,-0.575, 0.27,-0.575, -0.22,-0.78, -1.66,-0.79, -0.01,0.17, 0.05,0.14, 0.27,-0.39, 0.41,-0.39, 0.48,-0.42,
  0.53,-0.38, 0.60,-0.35, 0.67,-0.34, -0.05,-0.38, 1.59,-0.34, 1.49,-0.29, 2.45,-0.29,
  0.05,-0.20, 0.10,-0.10, 0.15,-0.25, 0.20,-0.05, 0.25,-0.18, 0.30,-0.30, 0.35,-0.12, 0.40,0.02, 0.45,-0.22, 0.50,-0.08,
  0.60,-0.15, 0.70,-0.25, 0.80,-0.05, 0.90,-0.18, 1.00,0.05, 1.10,-0.12, 1.20,-0.22, 1.30,0.00, 1.40,-0.15, 1.50,0.10,
  1.60,-0.08, 1.70,-0.20, 1.80,0.02, 1.90,-0.12, 2.00,0.15, 2.10,-0.05, 2.20,-0.18, 2.30,0.08, 2.40,-0.10, 2.50,0.20,
  2.60,-0.02, 2.70,-0.15, 2.80,0.10, 2.90,-0.08, 3.00,0.25, 3.10,-0.12, 3.20,0.05, 3.30,-0.03, 3.50,0.12, 3.70,-0.10,
  3.90,0.05, 4.10,-0.15, 4.30,0.08, 4.60,-0.05, 4.90,0.10, 0.15,0.05, 0.55,0.10, 0.85,-0.30, 1.25,-0.32, 1.75,-0.28,
  2.25,0.25, 2.75,0.32, 3.40,0.20, 0.08,-0.32, 0.38,-0.35, 0.65,0.05, 1.05,-0.28, 1.55,-0.25, 2.05,-0.25, 3.60,0.22, 4.00,0.24,
  -0.15,-0.10, -0.05,-0.18, 0.02,0.00, 0.12,-0.28, 0.22,-0.12, 0.32,-0.22, 0.42,-0.16, 0.52,-0.28, 0.62,-0.05, 0.72,-0.12,
  0.82,-0.20, 0.92,-0.08, 1.02,-0.15, 1.12,0.02, 1.22,-0.10, 1.32,-0.18, 1.42,-0.05, 1.52,-0.12, 1.62,0.05, 1.72,-0.05,
  1.82,-0.15, 1.92,0.05, 2.02,-0.10, 2.12,0.10, 2.22,-0.02, 2.32,-0.12, 2.42,0.05, 2.52,-0.08, 2.62,0.12, 2.72,-0.02,
  2.82,-0.12, 2.92,0.08, 3.02,-0.05, 3.15,0.12, 3.35,-0.12, 3.55,0.02, 3.80,-0.05, 4.20,0.05,
  0.04,-0.06, 0.14,-0.35, 0.24,0.05, 0.34,-0.06, 0.44,-0.30, 0.54,0.02, 0.64,-0.20, 0.76,-0.10, 0.86,0.10, 0.96,-0.25,
  1.16,-0.05, 1.36,0.08, 1.56,-0.20, 1.76,0.05, 1.96,-0.22, 2.16,-0.10, 2.36,0.15, 2.56,-0.15, 2.76,0.02, 2.96,-0.15,
  3.26,0.10, 3.66,-0.02, 4.06,-0.08];
const mz00_L0125 = [0.32,0.65, 2.55,0.63, 2.91,0.58, 2.07,0.57, 3.20,0.57, 1.25,0.33, 4.32,-0.45, 3.27,-0.59, 1.95,-0.53, -0.31,0.01,
  -0.22,-0.02, 0.19,-0.46, -0.05,-0.27, 1.63,-0.37, 1.34,-0.28, 2.55,-0.33,
  0.00,-0.12, 0.10,0.08, 0.20,-0.20, 0.30,0.00, 0.40,-0.12, 0.50,0.10, 0.60,-0.25, 0.70,0.02, 0.80,-0.12, 0.90,0.15,
  1.00,-0.20, 1.10,0.05, 1.20,-0.08, 1.30,0.22, 1.40,-0.18, 1.50,0.00, 1.60,0.12, 1.70,-0.10, 1.80,0.28, 1.90,-0.02,
  2.00,-0.15, 2.10,0.18, 2.20,-0.08, 2.30,0.05, 2.40,0.30, 2.50,-0.15, 2.60,0.08, 2.70,-0.05, 2.80,0.18, 2.90,-0.20,
  3.00,0.02, 3.10,0.15, 3.20,-0.10, 3.30,0.35, 3.50,-0.05, 3.70,0.10, 3.90,-0.18, 4.10,0.20, 4.40,0.00, 4.70,0.15,
  5.00,-0.05, 0.25,-0.35, 0.55,-0.30, 1.15,-0.32, 2.20,-0.28, 3.60,0.32, 0.35,0.25, 0.75,0.20, 1.45,0.35, 2.65,0.40, 0.45,-0.05,
  -0.20,-0.08, -0.08,0.05, 0.05,-0.18, 0.15,0.00, 0.25,-0.08, 0.35,-0.20, 0.45,0.10, 0.55,-0.15, 0.65,-0.05, 0.75,-0.18,
  0.85,0.05, 0.95,-0.08, 1.05,0.12, 1.15,-0.15, 1.25,0.05, 1.35,-0.08, 1.45,0.15, 1.55,-0.12, 1.65,0.00, 1.75,0.15,
  1.85,-0.08, 1.95,0.08, 2.05,-0.20, 2.15,0.02, 2.25,0.12, 2.35,-0.12, 2.45,0.05, 2.55,-0.02, 2.75,0.10, 2.95,-0.10,
  3.15,0.05, 3.40,-0.12, 3.80,0.05, 4.20,-0.08, 4.60,0.08,
  0.02,0.10, 0.12,-0.25, 0.22,0.10, 0.32,-0.10, 0.42,0.15, 0.52,-0.22, 0.62,0.10, 0.72,-0.08, 0.82,-0.22, 0.92,0.00,
  1.12,-0.02, 1.32,-0.20, 1.52,0.08, 1.72,-0.18, 1.92,0.22, 2.12,-0.05, 2.32,0.18, 2.52,-0.10, 2.72,0.20, 2.92,0.02,
  3.22,0.20, 3.52,0.08, 3.92,-0.05, 4.32,0.12];
const mz00_L0250 = [1.73,0.53, 4.49,0.51, 6.39,0.44, 1.75,0.49, 1.09,0.39, 3.46,0.44, 4.98,0.31, 5.57,-0.23, 5.33,-0.24, 4.83,-0.22, 5.79,-0.07,
  0.00,0.00, 0.10,-0.15, 0.20,0.12, 0.30,-0.08, 0.40,0.05, 0.50,-0.18, 0.60,0.02, 0.70,-0.10, 0.80,0.18, 0.90,-0.05,
  1.00,0.08, 1.10,-0.15, 1.20,0.28, 1.30,-0.05, 1.40,0.10, 1.60,-0.12, 1.80,0.20, 2.00,0.00, 2.20,-0.12, 2.40,0.15,
  2.60,-0.08, 2.80,0.28, 3.00,-0.15, 3.20,0.10, 3.40,-0.10, 3.60,0.18, 3.80,-0.20, 4.00,0.05, 4.20,0.25, 4.50,-0.10,
  4.80,0.15, 5.10,0.02, 0.15,0.20, 0.45,-0.28, 1.50,0.35, 2.30,0.40, 3.10,0.30, 0.65,0.25, 1.90,-0.25,
  -0.10,0.10, 0.05,-0.05, 0.12,0.05, 0.22,-0.12, 0.32,0.10, 0.42,-0.05, 0.52,0.15, 0.62,-0.08, 0.72,0.08, 0.85,-0.15,
  0.95,0.18, 1.05,-0.02, 1.15,0.12, 1.35,0.15, 1.55,0.05, 1.75,-0.05, 1.95,0.12, 2.15,0.05, 2.50,0.02, 2.90,0.12,
  3.30,0.00, 3.70,0.05, 4.10,-0.10, 4.60,0.02,
  -0.05,-0.12, 0.08,0.18, 0.18,-0.05, 0.28,0.20, 0.38,-0.15, 0.48,0.08, 0.58,-0.02, 0.68,0.20, 0.80,0.02, 1.00,-0.10,
  1.25,0.05, 1.45,-0.02, 1.65,0.22, 1.85,0.08, 2.25,0.20, 2.65,0.12, 3.05,0.05, 3.50,0.22];
const mz00_L0500 = [5.50,0.89, 3.78,0.87, 5.41,0.81, 2.28,0.79, 3.03,0.59, 1.95,0.52, 0.26,0.38, 6.66,-0.22, 6.29,-0.05,
  -0.05,0.05, 0.05,-0.08, 0.15,0.10, 0.25,-0.02, 0.35,0.15, 0.45,0.02, 0.55,-0.10, 0.65,0.08, 0.75,-0.02, 0.90,0.12,
  1.10,-0.05, 1.30,0.15, 1.50,-0.08, 1.70,0.10, 1.90,0.22, 2.10,-0.05, 2.40,0.12, 2.70,0.02, 3.00,0.20, 3.30,-0.05,
  3.60,0.12, 3.90,0.30, 4.20,-0.05, 4.60,0.10, 5.00,0.25, 0.20,-0.20, 0.40,-0.15, 1.20,0.40, 2.60,0.35, 3.40,0.38, 4.40,0.20,
  -0.10,-0.05, 0.00,0.15, 0.10,0.02, 0.20,0.08, 0.30,-0.10, 0.40,0.05, 0.50,0.18, 0.60,-0.02, 0.70,0.15, 0.80,0.05,
  1.00,0.20, 1.20,0.00, 1.40,0.25, 1.60,0.05, 1.80,-0.02, 2.00,0.15, 2.25,0.28, 2.50,-0.08, 2.85,0.15, 3.20,0.25,
  3.50,0.02, 4.00,0.15,
  0.05,0.25, 0.15,-0.12, 0.25,0.18, 0.35,0.05, 0.45,-0.05, 0.55,0.22, 0.65,0.00, 0.85,0.22, 1.05,0.05, 1.35,0.10,
  1.65,0.30, 1.95,0.05, 2.35,0.20, 2.75,0.08, 3.10,0.10, 3.75,0.25];
const mz00_bins = [0.82, 2.07, 2.93, 3.94, 5.16];
const mz00_med  = [0.01, -0.02, 0.0, 0.0, 0.12];
const mz00_lo   = [-0.09, -0.14, -0.14, -0.14, -0.16];
const mz00_hi   = [0.085, 0.13, 0.175, 0.27, 0.27];
const mz00_lo2  = [-0.04, -0.07, -0.06, -0.05, -0.02];
const mz00_hi2  = [0.05, 0.05, 0.08, 0.10, 0.20];

// ---- M_sp, z = 0.5 ----
const mz05_L0063 = [3.42,0.32, 3.54,0.34, 4.98,0.32, 1.64,0.33, 2.07,0.29, 2.50,0.26, 0.97,0.21, 7.23,0.11, 7.01,-0.28, 6.15,-0.19,
  6.01,-0.17, 5.25,-0.25, 4.02,-0.24, 3.99,-0.64, 4.33,-0.55, 3.42,-0.32, 3.24,-0.41, 2.70,-0.44, 2.36,-0.57, 2.31,-0.50,
  2.36,-0.44, 1.86,-0.49, 1.62,-0.53, 1.28,-0.64, 1.01,-0.72, 0.72,-0.88, 1.30,-0.49, 0.90,-0.37, 1.12,-0.38, 0.25,-0.64,
  -0.09,-0.67, -0.34,-0.53, -0.25,-0.54, -0.75,-0.47, -0.40,-0.13, -0.20,-0.33, -0.12,-0.44, 0.02,-0.44, 0.13,-0.33, 0.51,-0.46,
  0.51,-0.49, 0.36,-0.38, 0.60,-0.29, 0.87,-0.26,
  0.00,-0.05, 0.10,-0.18, 0.20,-0.08, 0.30,-0.25, 0.40,-0.12, 0.50,0.00, 0.60,-0.20, 0.70,-0.05, 0.80,-0.15, 0.90,0.05,
  1.00,-0.10, 1.10,-0.22, 1.20,0.02, 1.30,-0.12, 1.40,0.08, 1.50,-0.05, 1.60,-0.18, 1.70,0.05, 1.80,-0.08, 1.90,0.10,
  2.00,-0.02, 2.15,-0.12, 2.30,0.06, 2.45,-0.05, 2.60,0.12, 2.75,0.00, 2.90,-0.10, 3.05,0.08, 3.20,-0.02, 3.35,0.12,
  3.50,-0.08, 3.65,0.04, 3.80,0.15, 3.95,-0.03, 4.10,0.08, 4.25,-0.10, 4.40,0.04, 4.55,0.12, 4.70,-0.05, 4.85,0.08,
  5.00,0.00, 5.20,0.10, 5.40,-0.05, 5.60,0.06, 5.80,-0.02, 6.10,0.08, 6.40,-0.05, 6.70,0.05, 0.25,0.05, 0.65,0.08,
  1.05,0.12, 1.45,-0.30, 2.05,-0.25, 2.55,-0.20, 3.10,-0.18, 0.45,-0.30, 0.85,-0.32, 1.65,0.15, 2.20,0.18, 4.60,-0.15,
  5.50,0.15, 3.70,-0.15,
  0.15,-0.10, 0.30,-0.02, 0.45,-0.15, 0.60,-0.08, 0.75,0.02, 0.90,-0.10, 1.05,-0.02, 1.20,-0.12, 1.35,0.04, 1.50,0.10,
  1.65,-0.02, 1.80,0.06, 1.95,-0.05, 2.10,0.08, 2.25,0.00, 2.40,0.12, 2.55,0.02, 2.70,-0.06, 2.85,0.08, 3.00,0.02,
  3.15,0.10, 3.30,-0.04, 3.45,0.06, 3.60,0.02, 3.75,0.10, 3.90,-0.06, 4.05,0.02, 4.20,0.10, 4.35,-0.04, 4.50,0.06,
  4.65,0.00, 4.80,0.12, 4.95,0.04, 5.15,-0.02, 5.35,0.06, 5.65,0.00, 5.95,0.06, 6.25,0.02,
  0.22,-0.14, 0.38,0.02, 0.52,-0.06, 0.68,-0.14, 0.82,0.04, 0.98,-0.06, 1.12,0.06, 1.28,-0.04, 1.42,0.02, 1.58,0.08,
  1.72,-0.06, 1.88,0.02, 2.02,0.10, 2.18,-0.04, 2.32,0.02, 2.48,0.08, 2.62,-0.02, 2.78,0.10, 2.92,0.04, 3.08,-0.04,
  3.22,0.08, 3.38,0.02, 3.52,0.10, 3.68,-0.02, 3.82,0.06, 3.98,0.12, 4.12,0.00, 4.28,0.06, 4.42,0.12, 4.58,0.02,
  4.72,0.08, 4.90,-0.02, 5.10,0.08, 5.45,0.02, 5.85,0.08, 6.30,0.04];
const mz05_L0125 = [4.51,0.725, 4.23,0.38, 1.20,0.42, 6.81,0.30, 9.01,0.36, 0.87,0.21, 2.60,0.21, 2.99,0.21, 8.07,0.16, 7.66,0.07,
  7.93,-0.03, 4.60,-0.29, 4.66,-0.24, 3.99,-0.48, 2.00,-0.53, 1.71,-0.43, 1.28,-0.62, -0.54,-0.27, -0.39,-0.06, 0.33,-0.46, 1.71,0.23,
  0.05,0.02, 0.15,-0.12, 0.25,-0.02, 0.35,-0.18, 0.45,0.05, 0.55,-0.10, 0.70,0.08, 0.85,-0.12, 1.00,0.02, 1.15,-0.08,
  1.30,0.10, 1.45,-0.02, 1.60,0.06, 1.75,-0.12, 1.90,0.02, 2.05,0.12, 2.20,-0.05, 2.35,0.08, 2.50,-0.12, 2.65,0.03,
  2.80,0.14, 2.95,-0.04, 3.10,0.06, 3.25,-0.10, 3.40,0.10, 3.55,0.00, 3.70,0.12, 3.85,-0.06, 4.00,0.05, 4.15,0.16,
  4.30,-0.02, 4.45,0.09, 4.60,-0.08, 4.75,0.04, 4.90,0.14, 5.10,-0.04, 5.30,0.08, 5.50,0.00, 5.75,0.10, 6.00,-0.06,
  6.30,0.04, 6.60,-0.02, 0.20,-0.28, 0.60,-0.25, 1.20,-0.25, 2.40,-0.30, 3.30,-0.25, 0.40,0.12, 1.80,0.18, 3.00,0.20,
  3.90,0.25, 5.20,0.22,
  0.10,-0.06, 0.30,0.04, 0.50,-0.12, 0.65,0.00, 0.80,-0.06, 0.95,0.06, 1.10,-0.04, 1.25,0.08, 1.40,-0.10, 1.55,0.02,
  1.70,0.10, 1.85,-0.04, 2.00,0.06, 2.15,0.02, 2.30,-0.02, 2.45,0.10, 2.60,-0.04, 2.75,0.06, 2.90,0.00, 3.05,0.12,
  3.20,0.04, 3.35,-0.04, 3.50,0.08, 3.65,0.02, 3.80,0.08, 3.95,0.00, 4.10,0.10, 4.25,0.04, 4.40,-0.04, 4.55,0.08,
  4.70,0.02, 4.85,0.10, 5.05,0.02, 5.40,0.06, 5.80,0.02, 6.20,0.06,
  0.18,0.02, 0.35,-0.06, 0.52,0.06, 0.68,-0.10, 0.85,0.02, 1.02,-0.08, 1.18,0.06, 1.35,-0.02, 1.50,0.06, 1.68,0.02,
  1.82,0.10, 1.98,-0.04, 2.12,0.04, 2.28,0.10, 2.42,0.00, 2.58,0.06, 2.72,0.12, 2.88,-0.02, 3.02,0.06, 3.18,0.00,
  3.32,0.10, 3.48,0.02, 3.62,0.08, 3.78,-0.02, 3.92,0.04, 4.08,0.00, 4.22,0.08, 4.38,0.02, 4.52,0.10, 4.68,0.06,
  4.95,0.00, 5.25,0.04, 5.65,0.06, 6.05,0.00];
const mz05_L0250 = [4.23,-0.29, 2.45,-0.61, 0.11,-0.58, 0.69,-0.44,
  0.10,0.05, 0.30,-0.08, 0.50,0.08, 0.70,-0.02, 0.90,0.10, 1.10,-0.05, 1.30,0.05, 1.50,0.12, 1.70,-0.02, 1.90,0.08,
  2.10,0.00, 2.30,0.12, 2.50,0.02, 2.70,-0.06, 2.90,0.10, 3.10,0.00, 3.30,0.15, 3.50,-0.04, 3.70,0.06, 3.90,0.12,
  4.10,-0.02, 4.30,0.08, 4.50,0.16, 4.70,0.00, 4.90,0.10, 5.20,-0.02, 5.50,0.08, 0.40,-0.15, 1.00,-0.18, 2.00,-0.15,
  3.20,-0.12, 4.80,-0.10, 0.80,0.18, 2.60,0.20, 3.80,0.20,
  0.20,-0.04, 0.60,0.10, 1.20,0.02, 1.60,0.08, 2.20,0.04, 2.80,0.02, 3.40,0.06, 4.00,0.04, 4.60,0.10, 5.00,0.04, 5.80,0.06,
  0.40,0.04, 0.90,-0.02, 1.40,0.10, 1.90,0.02, 2.40,0.06, 2.90,0.04, 3.40,0.10, 3.90,0.02, 4.40,0.06, 4.90,-0.02, 5.30,0.06];
const mz05_L0500 = [1.64,0.27, 8.22,0.04, 8.53,-0.01, 3.01,-0.61,
  0.30,0.02, 0.80,0.08, 1.30,-0.02, 1.80,0.10, 2.30,0.00, 2.80,0.08, 3.30,-0.05, 3.80,0.05, 4.30,0.12, 4.80,0.02,
  5.30,0.10, 5.80,0.00, 6.30,0.08, 6.80,0.10, 1.00,0.15, 2.00,-0.08, 3.00,0.15, 4.00,-0.08, 5.00,-0.15, 6.00,-0.12,
  2.60,-0.20, 4.50,-0.20,
  0.50,0.05, 1.50,0.05, 2.50,0.08, 3.50,0.10, 4.60,0.06, 5.50,0.05,
  1.10,0.06, 2.10,0.10, 3.10,0.04, 4.10,0.08, 5.10,0.06];
const mz05_bins = [0.85, 1.64, 2.72, 3.88, 5.05, 5.95, 6.5, 7.17];
const mz05_med  = [-0.02, 0.01, 0.02, 0.023, 0.04, 0.023, 0.03, 0.027];
const mz05_lo   = [-0.18, -0.07, -0.05, -0.04, -0.03, -0.04, -0.04, -0.09];
const mz05_hi   = [0.02, 0.06, 0.07, 0.08, 0.10, 0.07, 0.10, 0.07];
const mz05_lo2  = [-0.10, -0.02, -0.01, -0.01, 0.01, -0.01, 0.0, -0.02];
const mz05_hi2  = [0.0, 0.04, 0.05, 0.05, 0.07, 0.05, 0.06, 0.05];

// ---- M_sp, z = 1.0 ----
const mz10_L0063 = [6.98,0.455, 2.91,0.36, 2.93,0.26, 3.85,0.21, 6.53,0.175, 7.10,0.10, 7.02,-0.02, 6.07,-0.21, 5.64,-0.17, 4.93,-0.19,
  4.43,-0.19, 3.85,-0.33, 3.32,-0.17, 3.07,-0.19, 2.77,-0.51, 2.70,-0.32, 2.35,-0.31, 1.93,-0.39, 1.77,-0.46, 1.32,-0.62,
  1.34,-0.71, 1.38,-0.38, 1.03,-0.43, 0.97,-0.39, 1.03,-0.29, 0.93,-0.35, 0.46,-0.30, 0.38,-0.46, 0.55,-0.80, 0.16,-0.67,
  0.11,-0.69, -0.05,-0.48, 0.38,-0.155, 0.63,-0.23, 0.79,-0.27, 1.12,-0.20, 1.50,-0.19,
  0.50,-0.10, 0.60,-0.18, 0.70,-0.05, 0.80,-0.12, 0.90,-0.02, 1.00,-0.15, 1.10,-0.06, 1.20,0.02, 1.30,-0.10, 1.40,-0.02,
  1.50,0.05, 1.60,-0.08, 1.70,0.02, 1.80,-0.12, 1.90,0.06, 2.00,-0.04, 2.10,0.08, 2.20,-0.08, 2.30,0.02, 2.40,0.10,
  2.50,-0.05, 2.60,0.05, 2.70,-0.10, 2.80,0.08, 2.90,-0.02, 3.00,0.12, 3.10,0.02, 3.20,-0.08, 3.30,0.06, 3.40,-0.02,
  3.50,0.10, 3.60,-0.06, 3.70,0.04, 3.80,0.14, 3.90,-0.03, 4.00,0.06, 4.10,-0.08, 4.20,0.10, 4.30,0.00, 4.40,0.08,
  4.50,-0.05, 4.60,0.04, 4.70,0.12, 4.80,-0.02, 4.90,0.06, 5.00,-0.06, 5.10,0.08, 5.30,0.02, 5.50,-0.04, 5.70,0.06,
  5.90,-0.02, 6.10,0.04, 6.30,-0.06, 6.60,0.02, 6.90,0.05, 1.15,-0.25, 2.20,-0.20, 3.25,-0.22, 4.35,-0.15, 2.65,0.15,
  3.65,0.18, 4.75,0.16, 0.75,-0.22, 1.65,0.10, 2.45,-0.15,
  0.65,-0.12, 0.78,-0.06, 0.88,-0.14, 0.98,-0.04, 1.08,-0.10, 1.18,-0.02, 1.28,-0.06, 1.38,0.04, 1.48,-0.04, 1.58,0.02,
  1.68,-0.06, 1.78,0.06, 1.88,-0.02, 1.98,0.04, 2.08,0.00, 2.18,0.06, 2.28,-0.04, 2.38,0.04, 2.48,0.08, 2.58,-0.02,
  2.68,0.06, 2.78,0.00, 2.88,0.04, 2.98,-0.04, 3.08,0.08, 3.18,0.02, 3.28,-0.02, 3.38,0.10, 3.48,0.02, 3.58,0.06,
  3.68,-0.02, 3.78,0.04, 3.88,0.08, 3.98,0.00, 4.08,0.04, 4.18,-0.04, 4.28,0.06, 4.38,0.02, 4.48,0.08, 4.58,-0.02,
  4.68,0.04, 4.78,0.08, 4.95,0.02, 5.15,0.04, 5.35,-0.02, 5.55,0.04, 5.75,0.02, 6.00,0.06, 6.40,0.00,
  0.70,-0.10, 0.84,-0.02, 0.94,-0.10, 1.04,0.00, 1.14,-0.08, 1.24,-0.04, 1.34,0.02, 1.44,-0.08, 1.54,0.00, 1.64,0.04,
  1.74,-0.02, 1.84,0.08, 1.94,-0.04, 2.04,0.02, 2.14,0.06, 2.24,0.00, 2.34,0.06, 2.44,-0.02, 2.54,0.04, 2.64,0.10,
  2.74,0.02, 2.84,-0.02, 2.94,0.06, 3.04,0.02, 3.14,0.10, 3.24,0.04, 3.34,0.00, 3.44,0.06, 3.54,-0.04, 3.64,0.08,
  3.74,0.02, 3.84,0.06, 3.94,-0.02, 4.04,0.10, 4.14,0.02, 4.24,0.00, 4.34,0.04, 4.44,-0.02, 4.54,0.06, 4.64,0.10,
  4.74,0.02, 4.88,0.06, 5.06,0.00, 5.26,0.06, 5.46,0.02, 5.66,0.00, 5.90,0.06, 6.20,0.02];
const mz10_L0125 = [3.01,0.62, 2.80,0.32, 1.54,0.33, 2.18,0.23, 3.46,0.26, 5.38,0.25, 7.22,0.05, 6.68,-0.325, 6.27,-0.19, 4.03,-0.21,
  3.64,-0.28, 3.11,-0.41, 3.15,-0.31, 2.61,-0.27, 2.09,-0.37, 1.99,-0.56, 1.78,-0.29, 0.67,-0.30, 0.46,-0.37, 0.24,-0.18, 2.22,-0.24,
  0.55,-0.05, 0.70,-0.15, 0.85,0.00, 1.00,-0.10, 1.15,0.04, 1.30,-0.05, 1.45,0.08, 1.60,-0.12, 1.75,0.04, 1.90,-0.04,
  2.05,0.10, 2.20,0.00, 2.35,-0.06, 2.50,0.08, 2.65,0.02, 2.80,-0.08, 2.95,0.06, 3.10,0.14, 3.25,0.00, 3.40,0.08,
  3.55,-0.05, 3.70,0.10, 3.85,0.02, 4.00,-0.06, 4.15,0.08, 4.30,0.14, 4.45,-0.02, 4.60,0.06, 4.75,-0.06, 4.90,0.10,
  5.10,0.00, 5.30,0.06, 5.55,-0.06, 5.80,0.04, 6.10,0.08, 6.40,-0.10, 0.95,-0.25, 1.80,-0.18, 2.75,0.20, 3.90,0.20,
  4.60,0.18, 5.70,-0.12,
  0.75,-0.08, 0.90,-0.04, 1.05,-0.08, 1.20,0.00, 1.35,-0.04, 1.50,0.02, 1.65,-0.02, 1.80,0.06, 1.95,0.00, 2.10,0.04,
  2.25,-0.02, 2.40,0.06, 2.55,0.00, 2.70,0.04, 2.85,0.10, 3.00,0.02, 3.15,0.06, 3.30,-0.02, 3.45,0.04, 3.60,0.08,
  3.75,0.00, 3.90,0.06, 4.05,0.02, 4.20,0.04, 4.35,0.08, 4.50,0.02, 4.65,0.00, 4.80,0.06, 5.00,0.04, 5.20,0.02,
  5.45,0.06, 5.70,0.02,
  0.82,-0.10, 0.96,-0.02, 1.12,-0.06, 1.26,0.04, 1.42,-0.06, 1.56,0.00, 1.72,0.08, 1.86,-0.02, 2.02,0.06, 2.16,0.02,
  2.32,0.08, 2.46,-0.02, 2.62,0.04, 2.76,0.08, 2.92,0.02, 3.06,0.08, 3.22,0.04, 3.36,0.00, 3.52,0.06, 3.66,0.10,
  3.82,0.04, 3.96,0.02, 4.12,0.06, 4.26,0.00, 4.42,0.06, 4.56,0.02, 4.72,0.08, 4.90,0.02, 5.10,0.06, 5.35,0.00, 5.60,0.06];
const mz10_L0250 = [2.05,0.28, 8.00,0.15, 8.76,0.135, 7.31,0.035, 8.14,-0.01, 8.24,-0.03, 6.88,-0.17, 4.13,-0.24, 1.60,-0.22, 1.99,-0.24,
  1.00,-0.02, 1.40,0.05, 1.80,-0.05, 2.20,0.06, 2.60,-0.02, 3.00,0.08, 3.40,0.00, 3.80,0.06, 4.20,-0.04, 4.60,0.08,
  5.00,0.02, 5.40,-0.05, 5.80,0.08, 6.20,0.00, 1.60,0.12, 2.80,0.15, 4.00,0.14, 0.80,-0.12, 3.20,-0.10, 5.20,-0.08,
  1.20,0.02, 2.00,0.02, 2.40,0.00, 3.60,0.04, 4.40,0.02, 5.60,0.04,
  1.50,0.00, 2.30,0.02, 3.10,0.04, 3.90,0.02, 4.70,0.04, 5.30,0.04];
const mz10_L0500 = [5.80,0.21, 7.67,-0.02, 2.87,-0.14, 3.60,-0.10, 1.90,0.00, 2.40,0.08, 3.10,-0.04, 4.40,0.04, 5.60,0.10, 6.50,-0.04,
  4.90,-0.10, 1.30,-0.12];
const mz10_bins = [0.91, 1.56, 2.46, 3.03, 4.25, 5.64, 6.33, 7.02];
const mz10_med  = [-0.066, -0.02, 0.014, 0.023, 0.018, 0.023, -0.02, 0.036];
const mz10_lo   = [-0.19, -0.07, -0.04, -0.03, -0.03, -0.04, -0.11, -0.02];
const mz10_hi   = [0.0, 0.03, 0.06, 0.07, 0.07, 0.07, 0.07, 0.07];
const mz10_lo2  = [-0.12, -0.05, -0.01, 0.0, 0.0, 0.0, -0.06, 0.01];
const mz10_hi2  = [-0.03, 0.01, 0.04, 0.05, 0.04, 0.05, 0.02, 0.06];

// ---- M_sp, z = 2.0 ----
const mz20_L0063 = [4.25,0.36, 4.23,0.26, 4.90,0.22, 3.23,0.26, 5.65,0.18, 3.40,0.17, 3.02,0.16, 8.74,0.027, 7.35,0.06, 9.24,-0.125,
  7.44,-0.13, 7.07,-0.24, 5.92,-0.19, 5.62,-0.27, 5.44,-0.19, 4.70,-0.155, 4.84,-0.21, 3.39,-0.46, 3.39,-0.31, 3.90,-0.18,
  4.07,-0.19, 4.21,-0.17, 4.00,-0.14, 2.32,-0.30, 2.54,-0.24, 2.40,-0.20, 1.67,-0.18, 1.88,-0.16, 1.44,-0.245, 1.44,-0.14,
  0.94,-0.085, 1.21,-0.03, 1.26,0.02,
  1.50,-0.04, 1.65,0.03, 1.80,-0.08, 1.95,0.02, 2.10,-0.05, 2.25,0.06, 2.40,-0.02, 2.55,0.04, 2.70,-0.09, 2.85,0.01,
  3.00,0.07, 3.15,-0.04, 3.30,0.03, 3.45,-0.08, 3.60,0.05, 3.75,-0.02, 3.90,0.08, 4.05,-0.06, 4.20,0.02, 4.35,0.09,
  4.50,-0.03, 4.65,0.05, 4.80,-0.08, 4.95,0.02, 5.10,0.07, 5.25,-0.04, 5.40,0.03, 5.55,-0.07, 5.70,0.05, 5.85,-0.02,
  6.00,0.06, 6.15,-0.05, 6.30,0.02, 6.45,-0.03, 6.60,0.04, 6.75,-0.01, 2.00,-0.12, 2.80,0.10, 3.50,0.12, 4.40,-0.12,
  5.00,-0.12, 5.80,0.10, 6.40,0.08, 1.60,-0.10, 2.60,-0.12, 3.20,-0.11, 3.70,0.10, 4.60,0.12, 2.20,0.00, 3.80,0.00,
  5.20,0.00, 6.20,-0.09,
  1.58,-0.02, 1.72,0.01, 1.86,-0.05, 2.02,0.04, 2.16,-0.03, 2.32,0.02, 2.48,-0.05, 2.62,0.03, 2.78,-0.02, 2.94,0.05,
  3.08,-0.04, 3.24,0.01, 3.38,0.06, 3.54,-0.02, 3.68,0.03, 3.84,-0.05, 3.98,0.02, 4.14,0.06, 4.28,-0.03, 4.44,0.02,
  4.58,-0.05, 4.74,0.03, 4.88,0.00, 5.04,0.05, 5.18,-0.02, 5.34,0.04, 5.48,-0.04, 5.64,0.02, 5.78,-0.01, 5.94,0.04,
  6.08,-0.03, 6.24,0.02, 6.38,-0.04, 6.52,0.03, 6.68,-0.02,
  1.52,0.00, 1.80,-0.03, 2.06,0.02, 2.34,-0.04, 2.60,0.00, 2.88,0.04, 3.12,-0.02, 3.40,0.02, 3.66,-0.04, 3.94,0.04,
  4.18,-0.02, 4.46,0.04, 4.72,-0.02, 4.98,0.03, 5.24,0.00, 5.52,0.04, 5.76,-0.03, 6.04,0.02, 6.30,0.00, 6.58,0.02];
const mz20_L0125 = [4.93,0.425, 4.17,0.40, 6.16,0.16, 6.81,0.16, 7.50,0.16, 7.93,0.10, 2.40,0.125, 8.29,0.04, 9.20,0.023, 7.44,0.05,
  6.94,0.06, 7.29,0.018, 7.50,-0.01, 7.71,-0.01, 7.90,-0.01, 7.00,-0.03, 7.11,-0.03, 8.19,-0.165, 6.83,-0.17, 6.57,-0.14,
  6.13,-0.31, 5.71,-0.14, 4.75,-0.19, 3.44,-0.34, 3.61,-0.325, 4.36,-0.15, 2.13,-0.31, 2.05,-0.12,
  1.55,0.01, 1.70,-0.06, 1.85,0.04, 2.00,-0.02, 2.15,0.07, 2.30,-0.07, 2.45,0.02, 2.60,0.06, 2.75,-0.04, 2.90,0.03,
  3.05,-0.07, 3.20,0.05, 3.35,-0.01, 3.50,0.08, 3.65,-0.05, 3.80,0.03, 3.95,0.10, 4.10,-0.03, 4.25,0.05, 4.40,-0.08,
  4.55,0.07, 4.70,-0.01, 4.85,0.04, 5.00,-0.06, 5.15,0.08, 5.30,-0.02, 5.45,0.05, 5.60,-0.05, 5.75,0.02, 5.90,0.07,
  6.05,-0.03, 6.20,0.04, 6.35,-0.06, 6.50,0.02, 6.65,0.05, 2.50,-0.12, 3.30,0.12, 4.20,0.13, 5.50,-0.11, 6.10,0.12, 3.00,-0.10,
  1.62,-0.03, 1.78,0.02, 1.94,-0.03, 2.08,0.03, 2.24,-0.04, 2.40,0.04, 2.56,-0.02, 2.70,0.02, 2.86,-0.05, 3.02,0.04,
  3.16,-0.02, 3.32,0.03, 3.46,-0.04, 3.62,0.05, 3.76,0.00, 3.92,-0.04, 4.06,0.04, 4.22,-0.02, 4.36,0.05, 4.52,-0.02,
  4.66,0.03, 4.82,-0.04, 4.96,0.05, 5.12,-0.01, 5.26,0.03, 5.42,-0.03, 5.56,0.04, 5.72,-0.04, 5.86,0.02, 6.02,0.00,
  6.16,0.04, 6.32,-0.02, 6.46,0.03, 6.62,-0.03,
  1.66,0.00, 1.92,0.03, 2.20,-0.02, 2.46,0.03, 2.74,-0.01, 3.00,0.02, 3.28,-0.03, 3.54,0.03, 3.80,-0.02, 4.08,0.02,
  4.32,-0.04, 4.60,0.04, 4.86,0.01, 5.14,0.04, 5.40,-0.01, 5.66,0.03, 5.92,-0.02, 6.20,0.00, 6.48,0.02];
const mz20_L0250 = [];
const mz20_L0500 = [];
const mz20_bins = [1.44, 2.79, 3.94, 5.1, 6.1, 6.79];
const mz20_med  = [-0.02, 0.002, 0.01, 0.005, 0.002, -0.013];
const mz20_lo   = [-0.09, -0.08, -0.09, -0.07, -0.07, -0.03];
const mz20_hi   = [0.02, 0.05, 0.07, 0.07, 0.06, 0.06];
const mz20_lo2  = [-0.05, -0.03, -0.03, -0.02, -0.02, -0.02];
const mz20_hi2  = [0.0, 0.03, 0.04, 0.04, 0.03, 0.02];

// ---- layout ----
const PLOT_LEFT = [180, 585, 991, 1396];
const PLOT_TOP = [47, 458];
const PLOT_W = 368, PLOT_H = 373;
const PAD_L = 90, PAD_T = 40, PAD_R = 24, PAD_B = 70;
const TICK_FONT = { family: "'Liberation Serif', serif", size: 29 };

const panels = [
  { row: 0, col: 0, pts: [rz00_L0063, rz00_L0125, rz00_L0250, rz00_L0500], bins: rz00_bins, med: rz00_med, lo: rz00_lo, hi: rz00_hi, lo2: rz00_lo2, hi2: rz00_hi2 },
  { row: 0, col: 1, pts: [rz05_L0063, rz05_L0125, rz05_L0250, rz05_L0500], bins: rz05_bins, med: rz05_med, lo: rz05_lo, hi: rz05_hi, lo2: rz05_lo2, hi2: rz05_hi2 },
  { row: 0, col: 2, pts: [rz10_L0063, rz10_L0125, rz10_L0250, rz10_L0500], bins: rz10_bins, med: rz10_med, lo: rz10_lo, hi: rz10_hi, lo2: rz10_lo2, hi2: rz10_hi2 },
  { row: 0, col: 3, pts: [rz20_L0063, rz20_L0125, rz20_L0250, rz20_L0500], bins: rz20_bins, med: rz20_med, lo: rz20_lo, hi: rz20_hi, lo2: rz20_lo2, hi2: rz20_hi2 },
  { row: 1, col: 0, pts: [mz00_L0063, mz00_L0125, mz00_L0250, mz00_L0500], bins: mz00_bins, med: mz00_med, lo: mz00_lo, hi: mz00_hi, lo2: mz00_lo2, hi2: mz00_hi2 },
  { row: 1, col: 1, pts: [mz05_L0063, mz05_L0125, mz05_L0250, mz05_L0500], bins: mz05_bins, med: mz05_med, lo: mz05_lo, hi: mz05_hi, lo2: mz05_lo2, hi2: mz05_hi2 },
  { row: 1, col: 2, pts: [mz10_L0063, mz10_L0125, mz10_L0250, mz10_L0500], bins: mz10_bins, med: mz10_med, lo: mz10_lo, hi: mz10_hi, lo2: mz10_lo2, hi2: mz10_hi2 },
  { row: 1, col: 3, pts: [mz20_L0063, mz20_L0125, mz20_L0250, mz20_L0500], bins: mz20_bins, med: mz20_med, lo: mz20_lo, hi: mz20_hi, lo2: mz20_lo2, hi2: mz20_hi2 }
];

/* HELPERS */
function pairs(flat) {
  const out = [];
  for (let i = 0; i < flat.length; i += 2) out.push({ x: flat[i], y: flat[i + 1] });
  return out;
}

function zip(xs, ys) {
  return xs.map((x, i) => ({ x: x, y: ys[i] }));
}

function fmtY(v) {
  return v.toFixed(1).replace("-", "\u2212");
}

// grey region, frame and inward ticks on all four sides
const panelDeco = {
  id: "panelDeco",
  beforeDatasetsDraw(chart) {
    const { ctx, chartArea: a, scales: { x } } = chart;
    const xs = Math.min(x.getPixelForValue(SHADE_MAX), a.right);
    if (xs > a.left) {
      ctx.save();
      ctx.fillStyle = "#f0f0f0";
      ctx.fillRect(a.left, a.top, xs - a.left, a.bottom - a.top);
      ctx.restore();
    }
  },
  afterDraw(chart) {
    const { ctx, chartArea: a, scales: { x, y } } = chart;
    const len = 7;
    ctx.save();
    ctx.strokeStyle = "#000";
    ctx.lineWidth = 1.2;
    ctx.beginPath();
    x.ticks.forEach(t => {
      const px = Math.round(x.getPixelForValue(t.value)) + 0.5;
      ctx.moveTo(px, a.bottom); ctx.lineTo(px, a.bottom - len);
      ctx.moveTo(px, a.top); ctx.lineTo(px, a.top + len);
    });
    y.ticks.forEach(t => {
      const py = Math.round(y.getPixelForValue(t.value)) + 0.5;
      ctx.moveTo(a.left, py); ctx.lineTo(a.left + len, py);
      ctx.moveTo(a.right, py); ctx.lineTo(a.right - len, py);
    });
    ctx.stroke();
    ctx.lineWidth = 2;
    ctx.strokeRect(a.left, a.top, a.right - a.left, a.bottom - a.top);
    ctx.restore();
  }
};

/* CHART SETUP */
function makePanel(p) {
  const fig = document.getElementById("fig");
  const cv = document.createElement("canvas");
  cv.width = PAD_L + PLOT_W + PAD_R;
  cv.height = PAD_T + PLOT_H + PAD_B;
  cv.style.left = (PLOT_LEFT[p.col] - PAD_L) + "px";
  cv.style.top = (PLOT_TOP[p.row] - PAD_T) + "px";
  fig.appendChild(cv);

  const xmin = X_MIN[p.col], xmax = X_MAX[p.col];
  const datasets = [];

  // scatter clouds, L0063 underneath, L0500 on top
  p.pts.forEach((flat, i) => {
    datasets.push({
      type: "scatter", label: SERIES[i], data: pairs(flat),
      backgroundColor: COLORS[i], borderWidth: 0,
      pointRadius: 2.4, pointHoverRadius: 0, order: 20 - i
    });
  });

  // reference lines
  const refLine = (v, dash, w) => ({
    type: "line", data: [{ x: xmin, y: v }, { x: xmax, y: v }],
    borderColor: "#767676", borderWidth: w, borderDash: dash,
    pointRadius: 0, fill: false, order: 10
  });
  datasets.push(refLine(REF_SOLID, [], 1.9));
  REF_DASHED.forEach(v => datasets.push(refLine(v, [11, 7], 1.6)));

  // scatter bands (outer, inner), then median
  const band = (ys, fill, ord) => ({
    type: "line", data: zip(p.bins, ys), borderWidth: 0, borderColor: "rgba(0,0,0,0)",
    backgroundColor: "rgba(0,0,139,0.2)", pointRadius: 0, tension: 0, fill: fill, order: ord
  });
  datasets.push(band(p.lo, false, 6));
  datasets.push(band(p.hi, "-1", 6));
  datasets.push(band(p.lo2, false, 5));
  datasets.push(band(p.hi2, "-1", 5));
  datasets.push({
    type: "line", data: zip(p.bins, p.med), borderColor: "#00008b", borderWidth: 2.6,
    pointRadius: 0, fill: false, tension: 0, order: 1
  });

  new Chart(cv, {
    type: "scatter",
    data: { datasets: datasets },
    options: {
      responsive: false,
      animation: false,
      devicePixelRatio: 1,
      events: [],
      layout: { padding: { left: 0, top: PAD_T, right: PAD_R, bottom: 0 } },
      plugins: { legend: { display: false }, tooltip: { enabled: false } },
      scales: {
        x: {
          type: "linear", min: xmin, max: xmax,
          afterBuildTicks: s => { s.ticks = X_TICKS[p.col].map(v => ({ value: v })); },
          afterFit: s => { s.height = PAD_B; s.paddingLeft = 0; s.paddingRight = 0; },
          grid: { display: false, drawTicks: false },
          border: { display: false },
          ticks: {
            display: p.row === 1, font: TICK_FONT, color: "#000", padding: 14,
            maxRotation: 0, autoSkip: false, callback: v => String(v)
          }
        },
        y: {
          type: "linear", min: -1, max: 1,
          afterBuildTicks: s => { s.ticks = Y_TICKS.map(v => ({ value: v })); },
          afterFit: s => { s.width = PAD_L; s.paddingTop = 0; s.paddingBottom = 0; },
          grid: { display: false, drawTicks: false },
          border: { display: false },
          ticks: {
            display: p.col === 0, font: TICK_FONT, color: "#000", padding: 18,
            autoSkip: false, callback: v => fmtY(v)
          }
        }
      }
    },
    plugins: [panelDeco]
  });
}

/* TEXT LABELS */
function addText(html, cls, style) {
  const el = document.createElement("div");
  el.className = "txt " + cls;
  el.innerHTML = html;
  Object.assign(el.style, style);
  document.getElementById("fig").appendChild(el);
  return el;
}

function drawLabels() {
  // y labels
  const yl = (sym, row) => addText(
    "<i>" + sym + "</i><span class='st'><span>shellfish</span><span>sp</span></span>" +
    "<span style='margin:0 2px'>/</span><i>" + sym + "</i><span class='st'><span>87%</span><span>sp</span></span>\u22121",
    "ylab", { left: "64px", top: (PLOT_TOP[row] + PLOT_H / 2 + 9) + "px" });
  yl("R", 0);
  yl("M", 1);

  // x labels
  PLOT_LEFT.forEach(l => {
    addText("\u0393<span>DK14</span>", "xlab", { left: (l + PLOT_W / 2) + "px", top: "891px" });
  });

  // redshift labels
  PLOT_LEFT.forEach((l, i) => {
    addText("<i>z</i> = " + REDSHIFTS[i], "zlab", { right: (1800 - (l + PLOT_W - 26)) + "px", top: "368px" });
  });

  // legend (three scatter points per entry)
  const legBase = [80, 104, 128, 152];
  SERIES.forEach((name, i) => {
    addText(name, "leg", { left: "470px", top: (legBase[i] - 20) + "px" });
    const cy = legBase[i] - 8;
    [[440, 1.5], [445, -1.5], [450, 1.5]].forEach(d => {
      const dot = document.createElement("div");
      dot.className = "dot";
      dot.style.background = COLORS[i];
      dot.style.left = (d[0] - 2.5) + "px";
      dot.style.top = (cy + d[1] - 2.5) + "px";
      document.getElementById("fig").appendChild(dot);
    });
  });
}

panels.forEach(makePanel);
drawLabels();
</script>
</body>
</html>
